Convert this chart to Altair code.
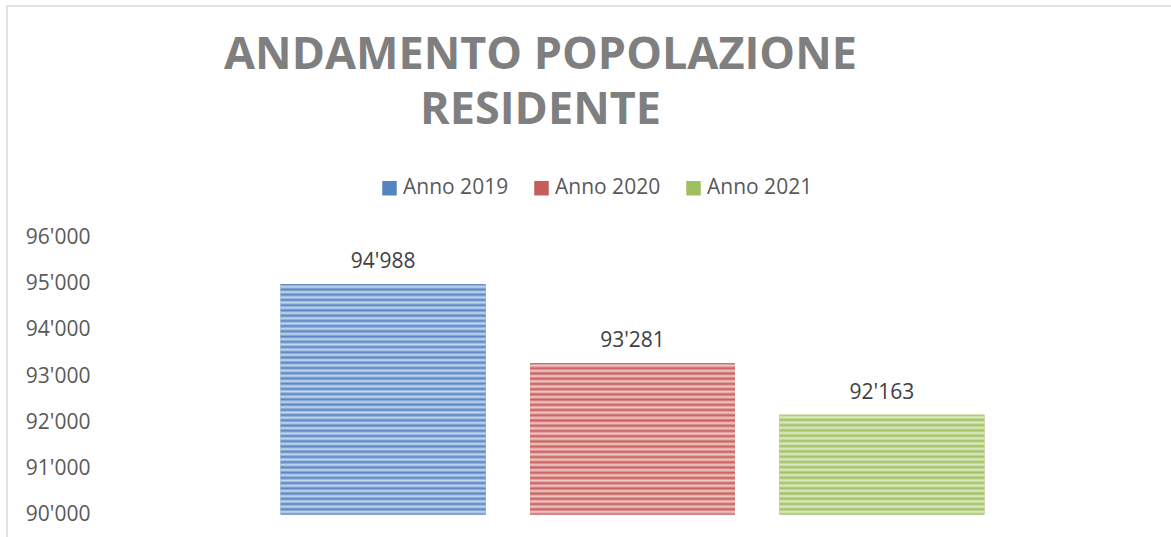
import altair as alt
import pandas as pd

# ---- data ----
categories = ["Anno 2019", "Anno 2020", "Anno 2021"]
values = [94988, 93281, 92163]
tick_values = [90000, 91000, 92000, 93000, 94000, 95000, 96000]
title_lines = ["ANDAMENTO POPOLAZIONE", "RESIDENTE"]

# ---- styles ----
colors = ["#5584c2", "#c65d5a", "#9fc05f"]
light_colors = ["#c9d9ef", "#f0cccb", "#dfebc9"]
Y_MIN, Y_MAX = 90000, 96000
PLOT_W, PLOT_H = 1075, 277
FONT = "Open Sans"

df = pd.DataFrame({"anno": categories, "pop": values})

label_expr = "replace(format(datum.value, ','), ',', \"'\")"

x_enc = alt.X("anno:N", sort=categories, axis=None,
              scale=alt.Scale(paddingInner=0.178, paddingOuter=0.744))
y_enc = alt.Y("pop:Q", title=None,
              scale=alt.Scale(domain=[Y_MIN, Y_MAX], nice=False, zero=False),
              axis=alt.Axis(values=tick_values, labelExpr=label_expr, grid=False,
                            domain=False, ticks=False, labelFontSize=21,
                            labelFont=FONT, labelColor="#595959", labelPadding=5))
y2_enc = alt.Y2(datum=Y_MIN)


def stripes(dark, light, n):
    stops = []
    for k in range(n):
        stops.append(alt.GradientStop(color=dark, offset=k / n))
        stops.append(alt.GradientStop(color=light, offset=(k + 0.5) / n))
    stops.append(alt.GradientStop(color=dark, offset=1))
    return alt.Gradient(gradient="linear", stops=stops, x1=0, x2=0, y1=0, y2=1)


base = alt.Chart(df).mark_bar().encode(
    x=x_enc, y=y_enc, y2=y2_enc,
    color=alt.Color("anno:N",
                    scale=alt.Scale(domain=categories, range=colors),
                    legend=alt.Legend(orient="none", legendX=284, legendY=-60,
                                      direction="horizontal", title=None,
                                      symbolType="square", symbolSize=210,
                                      symbolStrokeWidth=0, labelFontSize=21,
                                      labelFont=FONT, labelColor="#595959",
                                      columnPadding=22, labelOffset=3, padding=0)),
)

layers = [base]
for cat, val, dark, light in zip(categories, values, colors, light_colors):
    px = (val - Y_MIN) / (Y_MAX - Y_MIN) * PLOT_H
    n = max(1, round(px / 5.2))
    layers.append(
        alt.Chart(df).transform_filter(alt.datum.anno == cat)
        .mark_bar(fill=stripes(dark, light, n))
        .encode(x=x_enc, y=y_enc, y2=y2_enc)
    )

text = alt.Chart(df).transform_calculate(
    label="replace(format(datum.pop, ','), ',', \"'\")"
).mark_text(baseline="bottom", dy=-12, fontSize=21, font=FONT, color="#404040").encode(
    x=x_enc, y=y_enc, text="label:N"
)
layers.append(text)

border = alt.Chart(alt.Data(values=[{"a": 1}])).mark_rect(
    fill="transparent", stroke="#d9d9d9", strokeWidth=1.5
).encode(x=alt.value(-88), x2=alt.value(1200), y=alt.value(-231.5), y2=alt.value(400))
layers.append(border)

chart = alt.layer(*layers).properties(
    width=PLOT_W, height=PLOT_H,
    autosize="none",
    padding={"left": 95, "top": 237.5, "right": 1, "bottom": 22.5},
    title=alt.Title(text=title_lines, fontSize=45, font=FONT, fontWeight="bold",
                    color="#7f7f7f", lineHeight=55, anchor="middle", dx=-92,
                    offset=-128, frame="group"),
).configure(background="white").configure_view(stroke=None)

chart.save("out.html", embed_options={"renderer": "svg", "actions": False})
